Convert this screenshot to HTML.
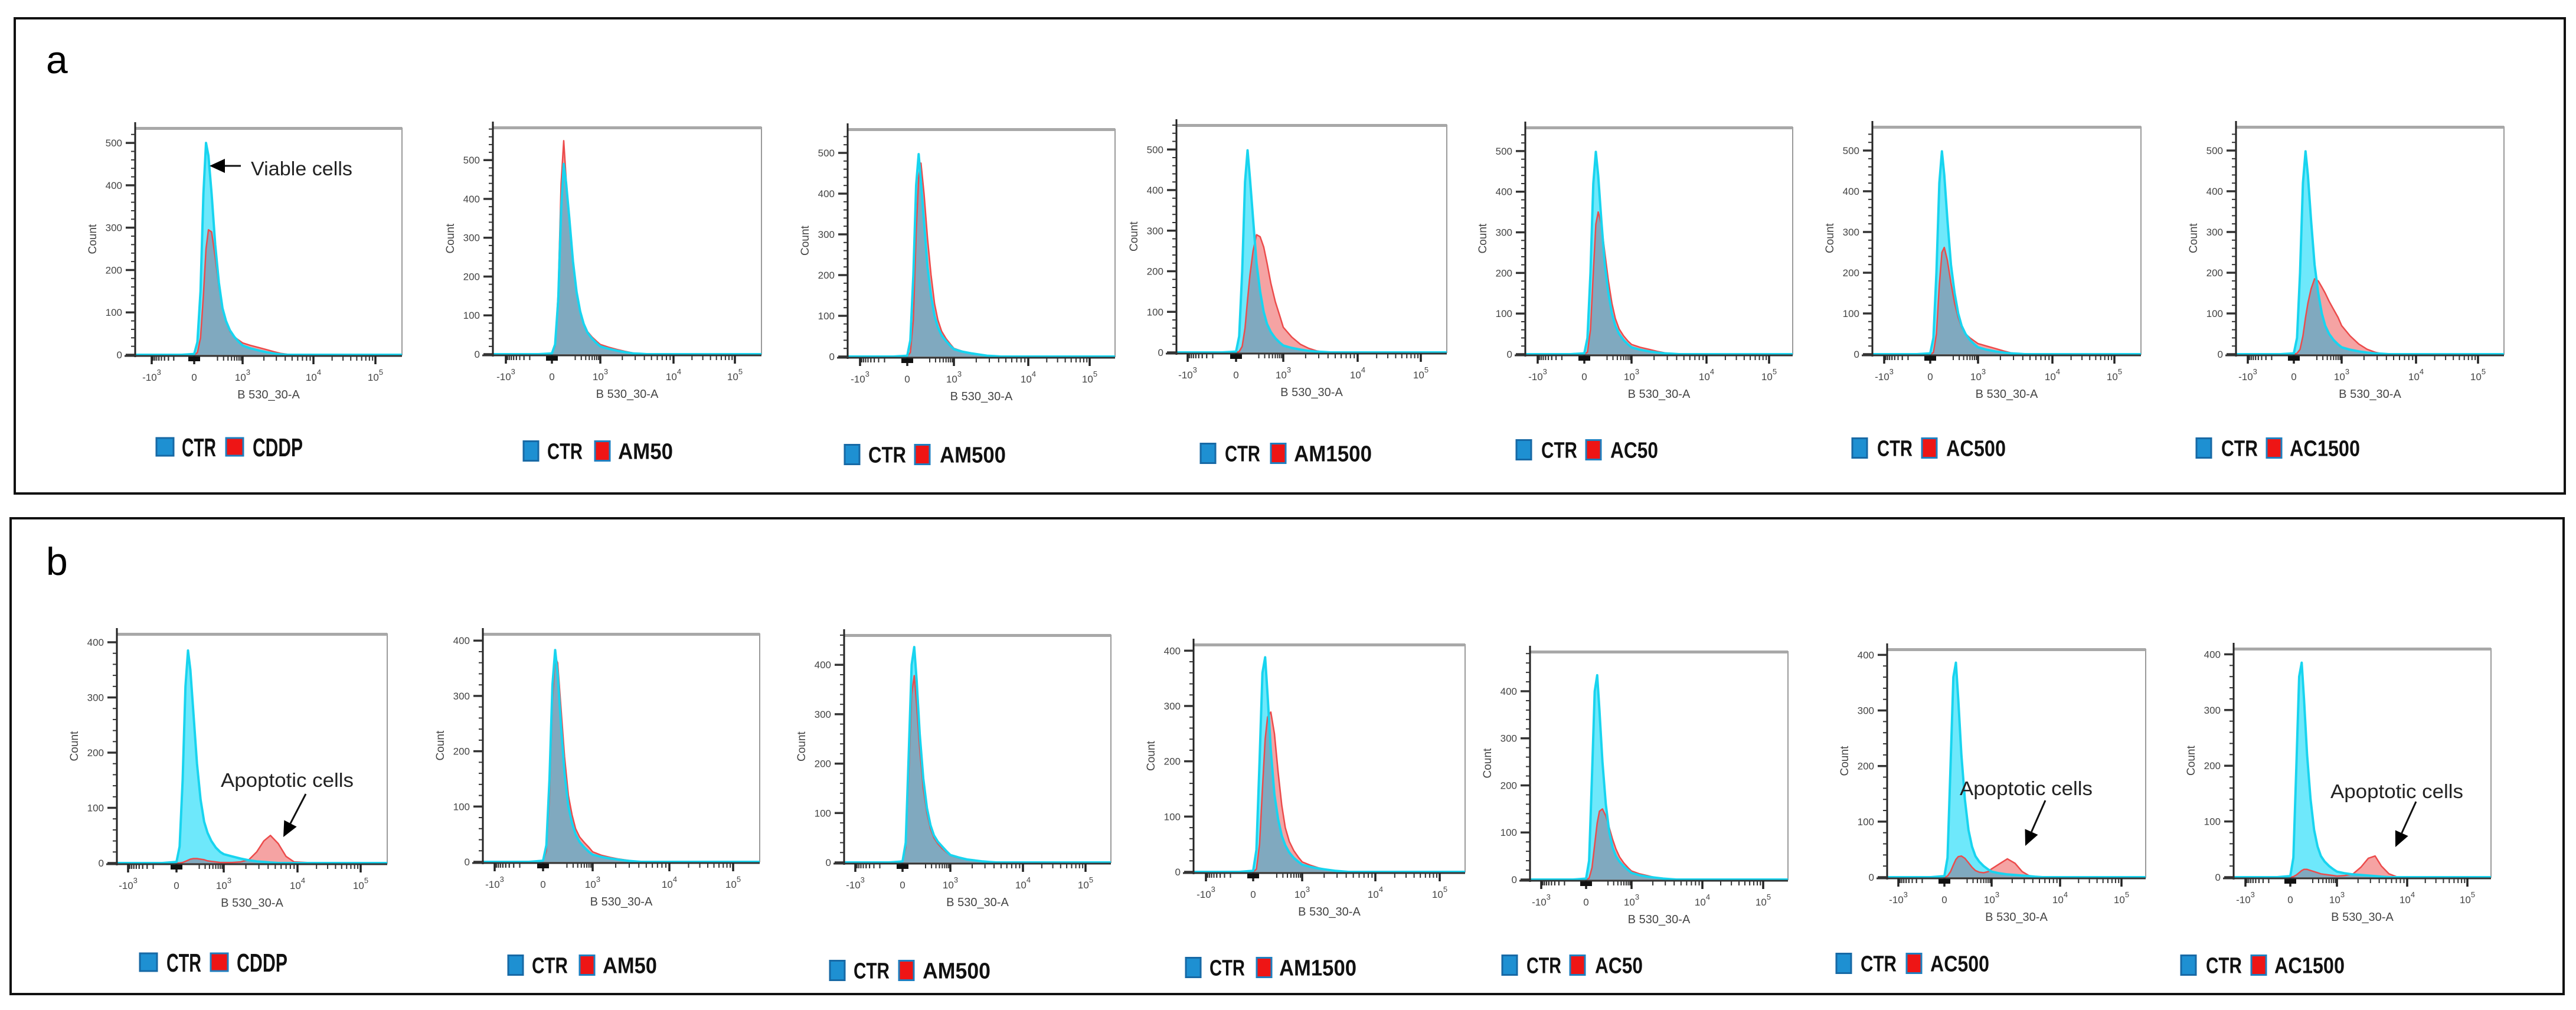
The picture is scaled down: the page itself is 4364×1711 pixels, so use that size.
<!DOCTYPE html>
<html><head><meta charset="utf-8"><title>Flow cytometry overlays</title>
<style>
html,body{margin:0;padding:0;background:#fff;width:4364px;height:1711px;overflow:hidden}
svg{display:block}
text{font-family:"Liberation Sans",sans-serif}
</style></head>
<body>
<svg id="fig" xmlns="http://www.w3.org/2000/svg" width="4364" height="1711" viewBox="0 0 4364 1711">
<defs></defs>
<rect x="25" y="31" width="4320" height="805" fill="none" stroke="#111" stroke-width="4"/>
<rect x="18" y="878" width="4325" height="806" fill="none" stroke="#111" stroke-width="4"/>
<text x="78" y="124" font-size="66" fill="#000">a</text>
<text x="78" y="974" font-size="66" fill="#000">b</text>
<g id="charts"></g>
</svg>
<script>
// shared channel grid (B 530_30-A intensity)
const X = [-1000,-100,0,20,40,60,80,100,130,170,220,280,350,450,600,800,1000,1300,1700,2200,2800,3500,4300,5500,7000,9000,20000,100000];
const panelLabels = ['CDDP','AM50','AM500','AM1500','AC50','AC500','AC1500'];
const xTickValues = [-1000,0,1000,10000,100000];
const xTickBase = ['-10','0','10','10','10'];
const xTickExp = ['3','','3','4','5'];
const yTicksA = [0,100,200,300,400,500];
const yTicksB = [0,100,200,300,400];

// row a: viable cells
const ctr_a1 = [0,0,2,30,150,380,500,470,380,260,170,110,80,58,42,30,22,15,10,6,3,1,0,0,0,0,0,0];
const trt_a1 = [0,0,0,5,40,140,250,295,290,230,160,110,78,55,42,34,28,22,17,12,7,3,1,0,0,0,0,0];
const ctr_a2 = [0,0,2,25,140,370,490,440,350,240,160,110,78,55,40,28,20,14,9,5,2,1,0,0,0,0,0,0];
const trt_a2 = [0,0,1,20,160,440,550,450,340,230,160,110,80,58,44,33,25,18,12,7,3,1,0,0,0,0,0,0];
const ctr_a3 = [0,0,2,40,200,420,497,430,330,220,150,100,72,52,38,26,18,12,8,5,2,1,0,0,0,0,0,0];
const trt_a3 = [0,0,0,10,90,300,440,475,400,290,200,130,90,62,44,30,20,13,8,5,2,1,0,0,0,0,0,0];
const ctr_a4 = [0,0,2,40,200,420,498,430,330,220,150,100,70,50,35,24,17,11,7,4,2,1,0,0,0,0,0,0];
const trt_a4 = [0,0,0,2,15,60,130,190,250,290,285,260,220,170,125,90,62,38,20,10,4,1,0,0,0,0,0,0];
const ctr_a5 = [0,0,2,40,200,420,498,440,330,220,150,100,70,50,35,24,17,11,7,4,2,1,0,0,0,0,0,0];
const trt_a5 = [0,0,0,5,60,200,320,350,320,250,180,125,88,62,45,32,24,17,12,7,3,1,0,0,0,0,0,0];
const ctr_a6 = [0,0,2,40,200,420,498,440,330,220,150,100,70,50,35,24,17,11,7,4,2,1,0,0,0,0,0,0];
const trt_a6 = [0,0,0,4,50,170,250,262,230,175,125,90,66,50,40,32,26,20,14,8,3,1,0,0,0,0,0,0];
const ctr_a7 = [0,0,2,40,200,420,498,440,330,220,150,100,70,50,35,24,17,11,7,4,2,1,0,0,0,0,0,0];
const trt_a7 = [0,0,0,2,12,45,90,125,160,185,180,165,150,130,110,90,70,45,25,12,5,1,0,0,0,0,0,0];
// row b: apoptotic cells
const ctr_b1 = [0,0,2,30,150,320,385,350,270,180,115,75,55,40,28,20,16,12,8,5,3,2,1,0,0,0,0,0];
const trt_b1 = [0,0,0,0,1,3,5,7,8,8,7,6,4,3,2,1,1,1,2,6,20,40,50,35,12,2,0,0];
const ctr_b2 = [0,0,2,30,150,320,383,340,250,160,100,70,50,36,26,18,13,9,6,4,2,1,0,0,0,0,0,0];
const trt_b2 = [0,0,1,20,120,290,370,360,280,190,120,85,60,45,35,26,18,12,8,5,3,1,0,0,0,0,0,0];
const ctr_b3 = [0,0,2,40,220,400,436,370,260,170,110,75,55,42,32,22,15,10,6,4,2,1,0,0,0,0,0,0];
const trt_b3 = [0,0,1,30,180,340,378,320,230,150,100,68,50,38,28,20,14,9,6,4,2,1,0,0,0,0,0,0];
const ctr_b4 = [0,0,2,40,200,360,388,320,220,140,95,65,48,35,25,18,13,9,6,4,2,1,0,0,0,0,0,0];
const trt_b4 = [0,0,0,5,50,150,240,280,289,250,180,120,80,55,38,26,18,12,7,4,2,1,0,0,0,0,0,0];
const ctr_b5 = [0,0,2,40,220,400,434,360,250,160,100,68,50,38,28,20,14,9,6,4,2,1,0,0,0,0,0,0];
const trt_b5 = [0,0,0,3,25,75,120,145,150,135,110,85,65,48,35,25,18,12,8,4,2,1,0,0,0,0,0,0];
const ctr_b6 = [0,0,2,35,200,360,386,320,220,140,85,55,38,28,20,14,10,7,5,4,3,2,1,0,0,0,0,0];
const trt_b6 = [0,0,0,2,10,22,32,37,38,34,26,18,12,9,8,10,15,24,33,25,10,3,1,0,0,0,0,0];
const ctr_b7 = [0,0,2,35,200,360,385,320,220,140,85,55,38,28,20,14,10,7,5,4,3,2,1,0,0,0,0,0];
const trt_b7 = [0,0,0,1,4,8,12,14,14,12,10,8,6,5,4,3,2,3,6,18,34,38,20,6,1,0,0,0];

const NS = 'http://www.w3.org/2000/svg';
const root = document.getElementById('charts');
function mk(tag, attrs, parent){
  const e = document.createElementNS(NS, tag);
  for (const k in attrs) e.setAttribute(k, attrs[k]);
  (parent||root).appendChild(e);
  return e;
}

// layout per panel
const panels = [
 {id:'a1',L:229,R:681,T:217,Z:601,ymax:535,yt:yTicksA,tk:[257,329,411,531,636],ly:757,lb:265,lc:308,lr:383,lt:428,cw:58,tw:85,fs:44,ctr:ctr_a1,trt:trt_a1,li:0},
 {id:'a2',L:835,R:1290,T:216,Z:600,ymax:584,yt:yTicksA,tk:[857,935,1017,1141,1245],ly:764,lb:887,lc:927,lr:1008,lt:1047,cw:60,tw:93,fs:38,ctr:ctr_a2,trt:trt_a2,li:1},
 {id:'a3',L:1436,R:1889,T:219,Z:604,ymax:558,yt:yTicksA,tk:[1457,1537,1616,1742,1846],ly:770,lb:1431,lc:1471,lr:1550,lt:1592,cw:64,tw:112,fs:38,ctr:ctr_a3,trt:trt_a3,li:2},
 {id:'a4',L:1993,R:2451,T:212,Z:597,ymax:560,yt:yTicksA,tk:[2012,2094,2174,2300,2407],ly:768,lb:2034,lc:2075,lr:2153,lt:2192,cw:60,tw:132,fs:38,ctr:ctr_a4,trt:trt_a4,li:3},
 {id:'a5',L:2584,R:3037,T:216,Z:600,ymax:558,yt:yTicksA,tk:[2605,2684,2764,2891,2997],ly:762,lb:2569,lc:2611,lr:2687,lt:2728,cw:61,tw:81,fs:38,ctr:ctr_a5,trt:trt_a5,li:4},
 {id:'a6',L:3172,R:3627,T:215,Z:600,ymax:558,yt:yTicksA,tk:[3192,3270,3351,3477,3582],ly:759,lb:3138,lc:3180,lr:3256,lt:3297,cw:60,tw:101,fs:38,ctr:ctr_a6,trt:trt_a6,li:5},
 {id:'a7',L:3788,R:4242,T:215,Z:600,ymax:558,yt:yTicksA,tk:[3808,3886,3967,4093,4198],ly:759,lb:3721,lc:3763,lr:3840,lt:3879,cw:62,tw:119,fs:38,ctr:ctr_a7,trt:trt_a7,li:6},
 {id:'b1',L:198,R:656,T:1074,Z:1462,ymax:415,yt:yTicksB,tk:[217,299,379,504,611],ly:1630,lb:237,lc:282,lr:357,lt:401,cw:59,tw:86,fs:44,ctr:ctr_b1,trt:trt_b1,li:0},
 {id:'b2',L:818,R:1287,T:1074,Z:1460,ymax:412,yt:yTicksB,tk:[838,920,1004,1134,1242],ly:1635,lb:861,lc:901,lr:982,lt:1021,cw:61,tw:92,fs:38,ctr:ctr_b2,trt:trt_b2,li:1},
 {id:'b3',L:1430,R:1882,T:1076,Z:1461,ymax:460,yt:yTicksB,tk:[1449,1529,1610,1733,1839],ly:1644,lb:1406,lc:1446,lr:1523,lt:1563,cw:61,tw:115,fs:38,ctr:ctr_b3,trt:trt_b3,li:2},
 {id:'b4',L:2022,R:2482,T:1092,Z:1477,ymax:411,yt:yTicksB,tk:[2043,2123,2206,2330,2439],ly:1639,lb:2009,lc:2049,lr:2129,lt:2167,cw:60,tw:131,fs:38,ctr:ctr_b4,trt:trt_b4,li:3},
 {id:'b5',L:2592,R:3029,T:1104,Z:1490,ymax:484,yt:yTicksB,tk:[2611,2687,2764,2884,2987],ly:1635,lb:2545,lc:2586,lr:2660,lt:2702,cw:59,tw:81,fs:38,ctr:ctr_b5,trt:trt_b5,li:4},
 {id:'b6',L:3197,R:3635,T:1100,Z:1486,ymax:410,yt:yTicksB,tk:[3216,3294,3374,3490,3594],ly:1632,lb:3111,lc:3152,lr:3230,lt:3270,cw:61,tw:100,fs:38,ctr:ctr_b6,trt:trt_b6,li:5},
 {id:'b7',L:3784,R:4220,T:1099,Z:1486,ymax:410,yt:yTicksB,tk:[3804,3880,3959,4078,4180],ly:1635,lb:3695,lc:3737,lr:3814,lt:3853,cw:61,tw:119,fs:38,ctr:ctr_b7,trt:trt_b7,li:6}
];

const anchorA = xTickValues.map(v => Math.asinh(v/100));
function xScale(p, v){
  const a = Math.asinh(v/100);
  for (let i=0;i<anchorA.length-1;i++){
    if (a <= anchorA[i+1] || i === anchorA.length-2){
      const f = (a-anchorA[i])/(anchorA[i+1]-anchorA[i]);
      return p.tk[i] + f*(p.tk[i+1]-p.tk[i]);
    }
  }
}
function yScale(p, c){ return p.Z - c/p.ymax*(p.Z-p.T); }

function seriesPath(p, counts, closed){
  let pts = [];
  pts.push([p.L, p.Z]);
  for (let i=0;i<X.length;i++){
    const x = Math.max(p.L, Math.min(p.R, xScale(p, X[i])));
    pts.push([x, yScale(p, counts[i])]);
  }
  pts.push([p.R, p.Z]);
  let d = 'M' + pts.map(q => q[0].toFixed(1)+','+q[1].toFixed(1)).join(' L');
  if (closed) d += ' Z';
  return d;
}

panels.forEach(p => {
  const g = mk('g', {});
  
  
  const w = p.R-p.L, h = p.Z-p.T;
  // plot frame
  const fr = mk('rect', {x:p.L, y:p.T, width:w, height:h, fill:'#fff', stroke:'#9a9a9a', 'stroke-width':2}, g);
  
  
  const tb = mk('rect', {x:p.L, y:p.T-2, width:w, height:5, fill:'#a8a8a8'}, g);
  
  
  // clip
  const cid = 'clip-' + p.id;
  const cp = mk('clipPath', {id:cid}, g);
  mk('path', {d:seriesPath(p, p.ctr, true)}, cp);
  // fills
  const fc = mk('path', {d:seriesPath(p, p.ctr, true), fill:'#6ee8fb'}, g);
  
  
  const ft = mk('path', {d:seriesPath(p, p.trt, true), fill:'#f5a3a3'}, g);
  
  
  const fo = mk('path', {d:seriesPath(p, p.trt, true), fill:'#80a9bf', 'clip-path':'url(#'+cid+')'}, g);
  
  
  const lt = mk('path', {d:seriesPath(p, p.trt, false), fill:'none', stroke:'#ec4b4b', 'stroke-width':2.5, 'stroke-linejoin':'round'}, g);
  
  
  const lc = mk('path', {d:seriesPath(p, p.ctr, false), fill:'none', stroke:'#18d4ef', 'stroke-width':4, 'stroke-linejoin':'round'}, g);
  
  
  // y axis
  const ya = mk('line', {x1:p.L, y1:p.T-10, x2:p.L, y2:p.Z+4, stroke:'#222', 'stroke-width':3}, g);
  
  
  for (let c=0;c<=p.ymax;c+=20){
    const y = yScale(p,c);
    const major = c%100===0;
    mk('line', {x1:p.L-(major?16:7), y1:y, x2:p.L, y2:y, stroke:'#333', 'stroke-width':major?3.5:2}, g);
  }
  p.yt.forEach(c => {
    const t = mk('text', {x:p.L-22, y:yScale(p,c)+6, 'font-size':17, fill:'#444', 'text-anchor':'end'}, g);
    
    
    t.textContent = c;
  });
  const yl = mk('text', {x:0, y:0, 'font-size':19, fill:'#444', 'text-anchor':'middle', transform:'translate('+(p.L-66)+','+(p.T+h*0.49)+') rotate(-90)'}, g);
  
  
  yl.textContent = 'Count';
  // x axis
  const xa = mk('line', {x1:p.L-18, y1:p.Z+2, x2:p.R, y2:p.Z+2, stroke:'#333', 'stroke-width':3}, g);
  
  
  const minors = [];
  [-1, 1].forEach(s => { for (let k=2;k<=9;k++){ minors.push(s*k*100); } });
  for (let k=2;k<=9;k++){ minors.push(k*1000); minors.push(k*10000); minors.push(-k*100/ (k>5?1:1)); }
  minors.forEach(v => {
    const x = xScale(p, v);
    if (x>p.L && x<p.R) mk('line', {x1:x, y1:p.Z+2, x2:x, y2:p.Z+10, stroke:'#333', 'stroke-width':2}, g);
  });
  xTickValues.forEach((v,i) => {
    const x = xScale(p, v);
    mk('line', {x1:x, y1:p.Z+2, x2:x, y2:p.Z+16, stroke:'#222', 'stroke-width':3.5}, g);
    const t = mk('text', {x:x, y:p.Z+44, 'font-size':17, fill:'#444', 'text-anchor':'middle'}, g);
    
    
    t.appendChild(document.createTextNode(xTickBase[i]));
    if (xTickExp[i]){
      const s = mk('tspan', {dy:-10, 'font-size':13}, t);
      s.textContent = xTickExp[i];
    }
  });
  const zc = xScale(p, 0);
  mk('rect', {x:zc-10, y:p.Z+3, width:20, height:8, fill:'#111'}, g);
  const xl = mk('text', {x:(p.L+p.R)/2, y:p.Z+74, 'font-size':20, fill:'#444', 'text-anchor':'middle'}, g);
  
  
  xl.textContent = 'B 530_30-A';
  // legend
  const lg = mk('g', {}, g);
  
  
  const sq = p.fs>40 ? 30 : 33, sw = p.fs>40 ? 29 : 25;
  const b1 = mk('rect', {x:p.lb, y:p.ly-sq/2, width:sw, height:sq, fill:'#1e90d2', stroke:'#1769a5', 'stroke-width':3}, lg);
  
  
  const capH = p.fs*0.72;
  const t1 = mk('text', {x:p.lc, y:p.ly+capH/2, 'font-size':p.fs, 'font-weight':'bold', fill:'#111', textLength:p.cw, lengthAdjust:'spacingAndGlyphs'}, lg);
  
  
  t1.textContent = 'CTR';
  const r1 = mk('rect', {x:p.lr, y:p.ly-sq/2, width:sw, height:sq, fill:'#ee1515', stroke:'#1e7fc0', 'stroke-width':3}, lg);
  
  
  const t2 = mk('text', {x:p.lt, y:p.ly+capH/2, 'font-size':p.fs, 'font-weight':'bold', fill:'#111', textLength:p.tw, lengthAdjust:'spacingAndGlyphs'}, lg);
  
  
  t2.textContent = panelLabels[p.li];
});

// annotations
function arrow(x1,y1,x2,y2,name){
  const g = mk('g', {});
  
  
  const ang = Math.atan2(y2-y1, x2-x1);
  const hl = 26, hw = 12;
  const bx = x2 - hl*Math.cos(ang), by = y2 - hl*Math.sin(ang);
  mk('line', {x1:x1, y1:y1, x2:bx, y2:by, stroke:'#111', 'stroke-width':3}, g);
  const px = -Math.sin(ang)*hw, py = Math.cos(ang)*hw;
  mk('polygon', {points:x2+','+y2+' '+(bx+px)+','+(by+py)+' '+(bx-px)+','+(by-py), fill:'#000'}, g);
}
function note(x,y,txt,fs,w,name){
  const t = mk('text', {x:x, y:y, 'font-size':fs, fill:'#222', textLength:w, lengthAdjust:'spacingAndGlyphs'});
  
  
  t.textContent = txt;
}
note(425, 297, 'Viable cells', 33, 172, 'viable-cells-annotation');
arrow(408, 281, 355, 281, 'viable-cells-arrow');
note(374, 1333, 'Apoptotic cells', 33, 225, 'apoptotic-cells-annotation-b1');
arrow(518, 1345, 480, 1418, 'apoptotic-cells-arrow-b1');
note(3320, 1347, 'Apoptotic cells', 33, 225, 'apoptotic-cells-annotation-b6');
arrow(3465, 1356, 3431, 1433, 'apoptotic-cells-arrow-b6');
note(3948, 1352, 'Apoptotic cells', 33, 225, 'apoptotic-cells-annotation-b7');
arrow(4093, 1358, 4058, 1435, 'apoptotic-cells-arrow-b7');
</script>
</body></html>
